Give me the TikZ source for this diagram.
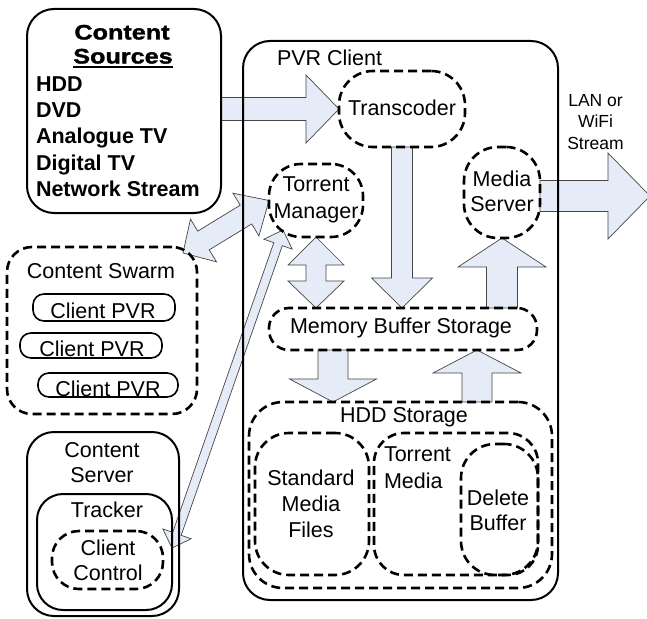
\documentclass[tikz,border=0pt]{standalone}
\usepackage{fontspec}
\setmainfont{Liberation Sans}
\newfontfamily\heavyfont[FakeStretch=1.2,FakeBold=1.5]{Liberation Sans}
\usetikzlibrary{calc}
\definecolor{arrowfill}{RGB}{229,235,247}
\definecolor{arrowline}{RGB}{70,70,70}
\pgfdeclarelayer{arrows}
\pgfsetlayers{arrows,main}

% single block arrow: tail point, tip point, half shaft width, half head width, head length
\newcommand\sglarrow[5]{%
  \coordinate (hb) at ($(#2)!#5!(#1)$);
  \draw[blockarrow] ($(#1)!#3!90:(#2)$) -- ($(hb)!#3!-90:(#1)$) -- ($(hb)!#4!-90:(#1)$)
    -- (#2) -- ($(hb)!#4!90:(#1)$) -- ($(hb)!#3!90:(#1)$) -- ($(#1)!#3!-90:(#2)$) -- cycle;}
% double block arrow: tip A, tip B, half shaft width, half head width, head length at A, head length at B
\newcommand\dblarrow[6]{%
  \coordinate (ha) at ($(#1)!#5!(#2)$);
  \coordinate (hb) at ($(#2)!#6!(#1)$);
  \draw[blockarrow] (#1) -- ($(ha)!#4!90:(#2)$) -- ($(ha)!#3!90:(#2)$) -- ($(hb)!#3!-90:(#1)$)
    -- ($(hb)!#4!-90:(#1)$) -- (#2) -- ($(hb)!#4!90:(#1)$) -- ($(hb)!#3!90:(#1)$)
    -- ($(ha)!#3!-90:(#2)$) -- ($(ha)!#4!-90:(#2)$) -- cycle;}

\begin{document}
\begin{tikzpicture}[x=1pt,y=-1pt,
  every node/.style={font=\fontsize{21.5}{26}\selectfont, inner sep=0pt, outer sep=0pt},
  solidbox/.style={draw, line width=2pt, rounded corners=#1},
  dashbox/.style={draw, line width=2.6pt, dash pattern=on 9pt off 5pt, rounded corners=#1},
  pill/.style={draw, line width=1.6pt, rounded corners=11pt},
  blockarrow/.style={fill=arrowfill, draw=arrowline, line width=0.7pt, line join=miter},
  srchead/.style={anchor=base, font=\heavyfont\bfseries\fontsize{21}{26}\selectfont},
  srcitem/.style={anchor=base west, font=\bfseries\fontsize{21.5}{26}\selectfont}]

\useasboundingbox (0,0) rectangle (647,618);

% ---------- frames ----------
\node[solidbox=27pt, minimum width=194, minimum height=204] (src) at (124,111) {};
\node[solidbox=27pt, minimum width=315, minimum height=559] (pvr) at (400.5,320.5) {};
\node[dashbox=34pt, minimum width=126, minimum height=76] (trans) at (402,109) {};
\node[dashbox=32pt, minimum width=94, minimum height=73] (tm) at (316,200.5) {};
\node[dashbox=34pt, minimum width=76, minimum height=91] (media) at (502,192.5) {};
\node[dashbox=20pt, minimum width=268, minimum height=42] (mem) at (403,329) {};
\node[dashbox=34pt, minimum width=303, minimum height=186] (hdd) at (400.5,495) {};
\node[dashbox=34pt, minimum width=114, minimum height=142] (std) at (312,504) {};
\node[dashbox=30pt, minimum width=164, minimum height=142] (tmed) at (456,504) {};
\node[dashbox=34pt, minimum width=77, minimum height=131] (del) at (499.5,509.5) {};
\node[dashbox=25pt, minimum width=190, minimum height=167] (swarm) at (102,330.5) {};
\node[pill, minimum width=142, minimum height=27] (cp1) at (104,307.5) {};
\node[pill, minimum width=142, minimum height=25] (cp2) at (91,345.5) {};
\node[pill, minimum width=140, minimum height=24] (cp3) at (108,385) {};
\node[solidbox=27pt, minimum width=152, minimum height=184] (csrv) at (103,524) {};
\node[solidbox=26pt, minimum width=135, minimum height=116] (trk) at (104.5,552) {};
\node[dashbox=27pt, minimum width=111, minimum height=58] (cc) at (107.5,560) {};

% ---------- labels ----------
\node[srchead] (srcT1) at (122,39.5) {Content};
\node[srchead] (srcT2) at (123,63.5) {Sources};
\draw[line width=1.8pt] ($(srcT2.base west)+(0,3.5)$) -- ($(srcT2.base east)+(0,3.5)$);
\node[srcitem] (srcL1) at (36,91) {HDD};
\node[srcitem] (srcL2) at (36,117) {DVD};
\node[srcitem] (srcL3) at (36,143.5) {Analogue TV};
\node[srcitem] (srcL4) at (36,170) {Digital TV};
\node[srcitem] (srcL5) at (36,196.5) {Network Stream};

\node[anchor=west] (pvrT) at (277,58) {PVR Client};
\node (transT) at (402,108) {Transcoder};
\node[align=center, font=\fontsize{21.5}{27}\selectfont] (tmT) at (316,199.5) {Torrent\\Manager};
\node[align=center, font=\fontsize{21.5}{25}\selectfont] (mediaT) at (502,191.5) {Media\\Server};
\node (memT) at (401,328) {Memory Buffer Storage};
\node (hddT) at (404,417) {HDD Storage};
\node[align=center] (stdT) at (311,503.5) {Standard\\Media\\Files};
\node[align=left, anchor=west, font=\fontsize{21.5}{27}\selectfont] (tmedT) at (384,467.5) {Torrent\\Media};
\node[align=center, font=\fontsize{21.5}{25}\selectfont] (delT) at (498,510) {Delete\\Buffer};
\node (swarmT) at (101,271) {Content Swarm};
\node (cp1T) at (103,311) {Client PVR};
\node (cp2T) at (92,349) {Client PVR};
\node (cp3T) at (108,389) {Client PVR};
\node[align=center, font=\fontsize{21.5}{25}\selectfont] (csrvT) at (102,463) {Content\\Server};
\node (trkT) at (107,510) {Tracker};
\node[align=center, font=\fontsize{21.5}{25}\selectfont] (ccT) at (108,560) {Client\\Control};
\node[align=center, font=\fontsize{17.5}{21.5}\selectfont] (lanT) at (595.5,122) {LAN or\\WiFi\\Stream};

% ---------- block arrows, behind the frames ----------
\begin{pgfonlayer}{arrows}
  \fill[white] (0,0) rectangle (647,618);
  \coordinate (a1s) at (src.east|-trans.west);
  \sglarrow{a1s}{trans.west}{11.5pt}{34pt}{33pt}
  \coordinate (a2e) at (trans.south|-mem.north);
  \sglarrow{trans.south}{a2e}{10.5pt}{30.5pt}{30pt}
  \coordinate (a3s) at (media.south|-mem.north);
  \sglarrow{a3s}{media.south}{15.5pt}{44pt}{29pt}
  \coordinate (out) at (650,196);
  \coordinate (a4s) at (media.east|-out);
  \sglarrow{a4s}{out}{15.5pt}{43pt}{42pt}
  \coordinate (m2h) at (333,0);
  \coordinate (a5s) at (m2h|-mem.south);
  \coordinate (a5e) at (m2h|-hdd.north);
  \sglarrow{a5s}{a5e}{15pt}{43.5pt}{23pt}
  \coordinate (h2m) at (477,0);
  \coordinate (a6s) at (h2m|-hdd.north);
  \coordinate (a6e) at (h2m|-mem.south);
  \sglarrow{a6s}{a6e}{15pt}{44pt}{23pt}
  \coordinate (a7e) at (tm.south|-mem.north);
  \dblarrow{tm.south}{a7e}{10pt}{28pt}{28pt}{27pt}
  \coordinate (swtip) at (183,253);
  \dblarrow{swtip}{tm.west}{11pt}{25pt}{24pt}{27pt}
  \coordinate (tmlow) at (283,230);
  \coordinate (cctip) at (172,548);
  \dblarrow{tmlow}{cctip}{4.5pt}{15pt}{15pt}{15pt}
\end{pgfonlayer}
\end{tikzpicture}
\end{document}
